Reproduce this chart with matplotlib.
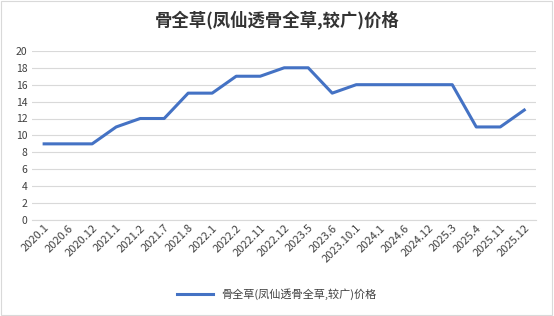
import matplotlib
matplotlib.use('Agg')
import matplotlib.pyplot as plt

plt.rcParams['font.family'] = ['Noto Sans CJK SC', 'DejaVu Sans']

dates = ['2020.1', '2020.6', '2020.12', '2021.1', '2021.2', '2021.7', '2021.8',
         '2022.1', '2022.2', '2022.11', '2022.12', '2023.5', '2023.6', '2023.10.1',
         '2024.1', '2024.6', '2024.12', '2025.3', '2025.4', '2025.11', '2025.12']
prices = [9, 9, 9, 11, 12, 12, 15, 15, 17, 17, 18, 18, 15, 16, 16, 16, 16, 16, 11, 11, 13]
series_name = '骨全草(凤仙透骨全草,较广)价格'

fig = plt.figure(figsize=(5.54, 3.16), dpi=100)
ax = fig.add_axes([0.058, 0.304, 0.91, 0.535])

x = list(range(len(dates)))
ax.plot(x, prices, color='#4472C4', linewidth=2.2, label=series_name)

ax.set_ylim(0, 20)
ax.set_yticks(range(0, 21, 2))
ax.set_xlim(-0.5, len(dates) - 0.5)
ax.set_xticks(x)
ax.set_xticklabels(dates, rotation=45, ha='right', rotation_mode='anchor', fontsize=8, color='#404040')
ax.tick_params(axis='y', labelsize=7.5, colors='#404040', length=0)
ax.tick_params(axis='x', length=0, pad=2)
ax.grid(axis='y', color='#D9D9D9', linewidth=0.8)
ax.set_axisbelow(True)
for s in ['top', 'right', 'left']:
    ax.spines[s].set_visible(False)
ax.spines['bottom'].set_color('#D9D9D9')

fig.suptitle(series_name, y=0.965, fontsize=12.5, fontweight='bold', color='#333333')
fig.legend(loc='lower center', bbox_to_anchor=(0.5, 0.02), frameon=False, fontsize=8,
           handlelength=3.2, labelcolor='#404040')

fig.patches.append(plt.Rectangle((0.002, 0.003), 0.995, 0.994, transform=fig.transFigure,
                                 fill=False, edgecolor='#D9D9D9', linewidth=0.8))

fig.savefig('out.png', dpi=100)
